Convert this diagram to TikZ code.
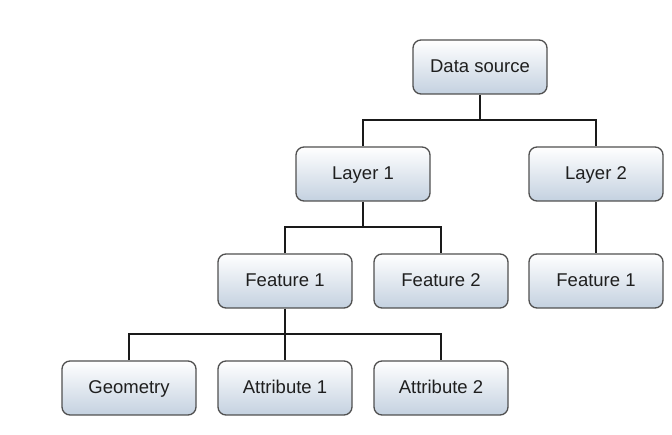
\documentclass[tikz,border=0pt]{standalone}
\usepackage{fontspec}
\setmainfont{Liberation Sans}
\definecolor{boxborder}{HTML}{505050}
\definecolor{boxbottom}{HTML}{C4D1E0}
\definecolor{linecol}{HTML}{1A1A1A}
\begin{document}
\begin{tikzpicture}[x=1pt,y=-1pt,
  box/.style={draw=boxborder, line width=1.3pt, rounded corners=8pt,
    top color=white, bottom color=boxbottom, minimum width=134pt, minimum height=54pt,
    inner sep=0pt, text height=13pt, text depth=1pt,
    font=\fontsize{18.5}{21}\selectfont, text=black!88},
  conn/.style={draw=linecol, line width=1.6pt}]
\useasboundingbox (0,0) rectangle (672,435);
\node[box] (ds) at (480,67) {Data source};
\node[box] (l1) at (363,174) {Layer 1};
\node[box] (l2) at (596,174) {Layer 2};
\node[box] (f1) at (285,281) {Feature 1};
\node[box] (f2) at (441,281) {Feature 2};
\node[box] (f3) at (596,281) {Feature 1};
\node[box] (geo) at (129,388) {Geometry};
\node[box] (a1) at (285,388) {Attribute 1};
\node[box] (a2) at (441,388) {Attribute 2};
\coordinate (b1) at (480,120);
\coordinate (b2) at (363,227);
\coordinate (b3) at (285,334);
\draw[conn] (ds.south) -- (b1);
\draw[conn] (l1.north) |- (b1) -| (l2.north);
\draw[conn] (l1.south) -- (b2);
\draw[conn] (f1.north) |- (b2) -| (f2.north);
\draw[conn] (l2.south) -- (f3.north);
\draw[conn] (f1.south) -- (b3);
\draw[conn] (geo.north) |- (b3) -| (a2.north);
\draw[conn] (b3) -- (a1.north);
\end{tikzpicture}
\end{document}
